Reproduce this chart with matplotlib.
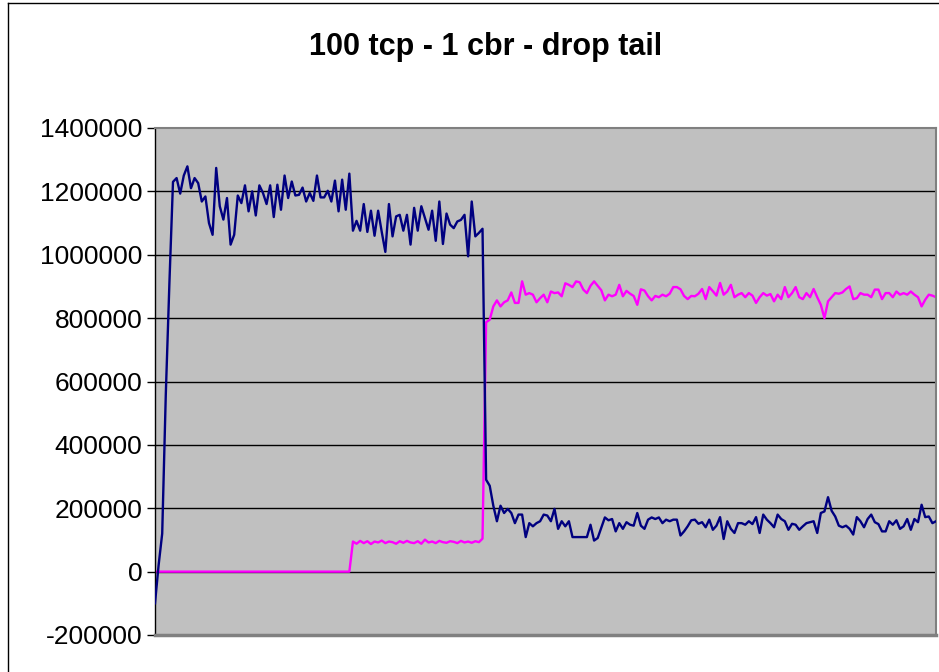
import numpy as np
import matplotlib
matplotlib.use("Agg")
import matplotlib.pyplot as plt

# throughput samples (bytes/s), one value per sample
tcp_before = [-100000, 20000, 120000, 560000, 910000, 1230000, 1242000, 1193000,
              1250000, 1279000, 1210000, 1242000, 1226000, 1168000, 1184000, 1100000,
              1063000, 1274000, 1153000, 1111000, 1179000, 1032000, 1063000, 1187000,
              1163000, 1219000, 1137000, 1200000, 1124000, 1219000, 1195000, 1160000,
              1219000, 1119000, 1221000, 1142000, 1250000, 1179000, 1231000, 1187000,
              1189000, 1212000, 1168000, 1195000, 1170000, 1250000, 1181000, 1181000,
              1202000, 1168000, 1234000, 1137000, 1237000, 1142000, 1256000, 1076000,
              1107000, 1076000, 1160000, 1072000, 1139000, 1060000, 1139000, 1072000,
              1009000, 1160000, 1058000, 1121000, 1126000, 1076000, 1126000, 1032000,
              1148000, 1076000, 1153000, 1116000, 1079000, 1139000, 1044000, 1168000,
              1034000, 1130000, 1095000, 1084000, 1105000, 1110000, 1126000, 995000,
              1168000, 1058000, 1069000, 1082000]
tcp_after = [290000,
             271000, 208000, 159000, 208000, 185000, 198000, 185000, 153000, 180000, 180000,
             109000, 153000, 143000, 153000, 159000, 180000, 177000, 159000, 198000, 135000,
             159000, 143000, 159000, 109000, 109000, 109000, 109000, 109000, 148000, 98000,
             106000, 138000, 171000, 162000, 166000, 127000, 153000, 135000, 156000, 148000,
             145000, 185000, 145000, 135000, 164000, 171000, 166000, 171000, 153000, 164000,
             159000, 164000, 164000, 114000, 127000, 143000, 162000, 164000, 151000, 156000,
             140000, 164000, 132000, 145000, 172000, 103000, 159000, 135000, 122000, 153000,
             153000, 148000, 159000, 150000, 172000, 122000, 180000, 164000, 153000, 140000,
             180000, 166000, 159000, 132000, 151000, 148000, 132000, 143000, 153000, 156000,
             159000, 122000, 185000, 190000, 235000, 192000, 174000, 145000, 140000, 145000,
             135000, 117000, 172000, 159000, 140000, 166000, 180000, 156000, 150000, 127000,
             127000, 159000, 148000, 162000, 135000, 143000, 166000, 132000, 166000, 156000,
             211000, 172000, 174000, 153000, 159000]

cbr_off = [0] * 55
cbr_low = [95000, 88000, 97000, 90000, 96000, 87000, 95000, 92000, 98000, 90000,
           95000, 93000, 88000, 96000, 91000, 97000, 92000, 90000, 96000, 88000,
           101000, 92000, 95000, 90000, 97000, 93000, 91000, 96000, 94000, 90000,
           97000, 92000, 95000, 91000, 96000, 93000, 104000]
cbr_high = [787000,
            795000, 837000, 856000, 837000, 850000, 856000, 881000, 848000, 848000, 916000,
            874000, 879000, 874000, 850000, 863000, 874000, 850000, 884000, 879000, 881000,
            869000, 910000, 905000, 898000, 916000, 913000, 890000, 879000, 902000, 916000,
            902000, 888000, 856000, 874000, 869000, 874000, 905000, 869000, 886000, 877000,
            870000, 842000, 891000, 887000, 869000, 856000, 870000, 866000, 874000, 869000,
            877000, 898000, 898000, 891000, 870000, 860000, 870000, 869000, 877000, 892000,
            860000, 898000, 885000, 871000, 911000, 874000, 884000, 905000, 866000, 874000,
            879000, 866000, 879000, 871000, 848000, 866000, 879000, 871000, 876000, 853000,
            874000, 860000, 898000, 866000, 879000, 898000, 866000, 860000, 879000, 866000,
            892000, 866000, 842000, 800000, 853000, 866000, 879000, 877000, 881000, 892000,
            900000, 860000, 863000, 879000, 874000, 874000, 866000, 890000, 890000, 860000,
            879000, 879000, 866000, 884000, 874000, 879000, 874000, 884000, 874000, 866000,
            837000, 858000, 874000, 871000, 866000]

tcp = tcp_before + tcp_after
cbr = cbr_off + cbr_low + cbr_high
t = np.arange(len(tcp))

yticks = list(range(-200000, 1400001, 200000))

plt.rcParams['font.family'] = ['Liberation Sans', 'DejaVu Sans']

fig = plt.figure(figsize=(9.39, 6.72), dpi=100)
W, H = 939, 672

# chart area border
fig.add_artist(plt.Line2D([8 / W, 8 / W], [0, 1 - 3 / H], color='black', lw=1))
fig.add_artist(plt.Line2D([8 / W, 1], [1 - 3 / H, 1 - 3 / H], color='black', lw=1))

ax = fig.add_axes([155 / W, 1 - 635 / H, (936 - 155) / W, (635 - 128) / H])
ax.set_facecolor('#C0C0C0')

for v in yticks[1:-1]:
    ax.axhline(v, color='black', lw=1, zorder=1)

ax.plot(t, tcp, color='#000080', lw=1.7, zorder=3)
ax.plot(t, cbr[:len(t)], color='#FF00FF', lw=1.7, zorder=2)

ax.set_xlim(0, len(t) - 1)
ax.set_ylim(-200000, 1400000)
ax.set_yticks(yticks)
ax.set_yticklabels([str(v) for v in yticks], fontsize=19)
ax.set_xticks([])
ax.tick_params(axis='y', direction='out', length=6, width=1, pad=3)

ax.spines['left'].set_color('black')
ax.spines['left'].set_linewidth(1)
for s in ['top', 'right']:
    ax.spines[s].set_color('#808080')
    ax.spines[s].set_linewidth(1.5)
ax.spines['bottom'].set_color('#808080')
ax.spines['bottom'].set_linewidth(2.5)

fig.text(486 / W, 1 - 47 / H, '100 tcp - 1 cbr - drop tail', ha='center', va='center',
         fontsize=22, fontweight='bold')

fig.savefig('out.png', dpi=100)
